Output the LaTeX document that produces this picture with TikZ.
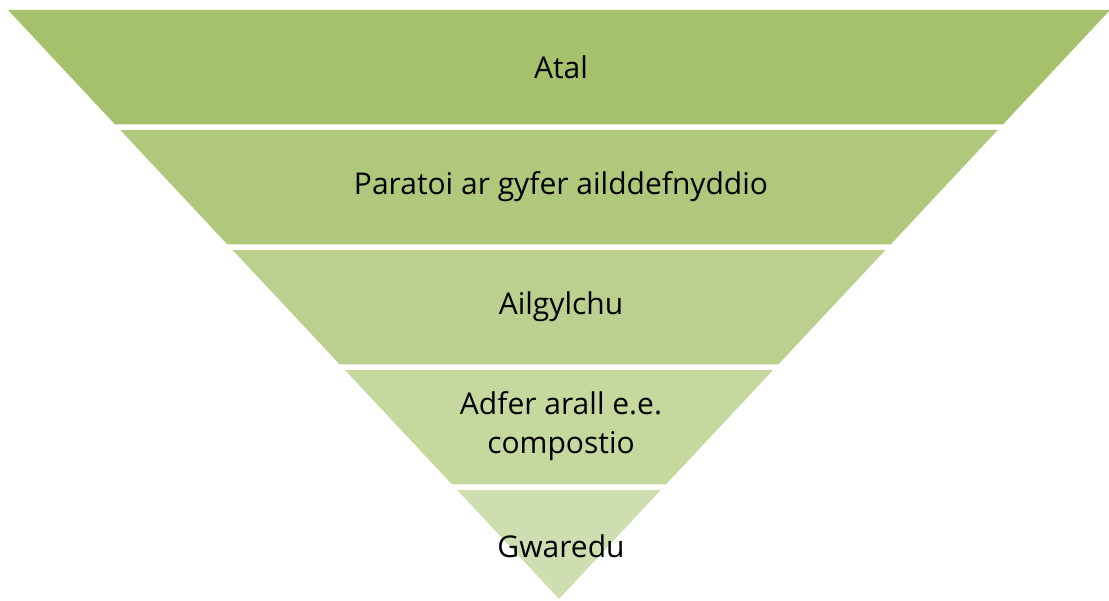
\documentclass[tikz,border=0pt]{standalone}
\usepackage{fontspec}
\setmainfont{Open Sans}
\definecolor{levelA}{HTML}{A6C16C}
\definecolor{levelB}{HTML}{B0C87C}
\definecolor{levelC}{HTML}{BBD08E}
\definecolor{levelD}{HTML}{C5D89E}
\definecolor{levelE}{HTML}{CFDEB0}
\begin{document}
\begin{tikzpicture}[
  x=1pt,
  y=-1pt,
  font=\fontsize{30}{39}\selectfont,
  band/.style={
    draw=none
  },
  label/.style={
    text=black,
    align=center,
    inner sep=0pt
  }
  ]

  \useasboundingbox (0,0) rectangle (1109,601);

  % bands of the funnel, top to bottom
  \fill [band,levelA] (8,10) -- (1110,10) -- (1002.9,124.5) -- (115.1,124.5) -- cycle;
  \fill [band,levelB] (120.3,130) -- (997.7,130) -- (890.6,244.5) -- (227.4,244.5) -- cycle;
  \fill [band,levelC] (232.6,250) -- (885.4,250) -- (778.2,364.5) -- (339.8,364.5) -- cycle;
  \fill [band,levelD] (344.9,370) -- (773.1,370) -- (665.9,484.5) -- (452.1,484.5) -- cycle;
  \fill [band,levelE] (457.2,490) -- (660.8,490) -- (559,599) -- cycle;

  \node (atal) [label] at (561,67) {Atal};
  \node (paratoi) [label] at (561,187) {Paratoi ar gyfer ailddefnyddio};
  \node (ailgylchu) [label] at (561,307) {Ailgylchu};
  \node (adfer) [label] at (561,426) {Adfer arall e.e.\\compostio};
  \node (gwaredu) [label] at (561,546) {Gwaredu};
\end{tikzpicture}
\end{document}
